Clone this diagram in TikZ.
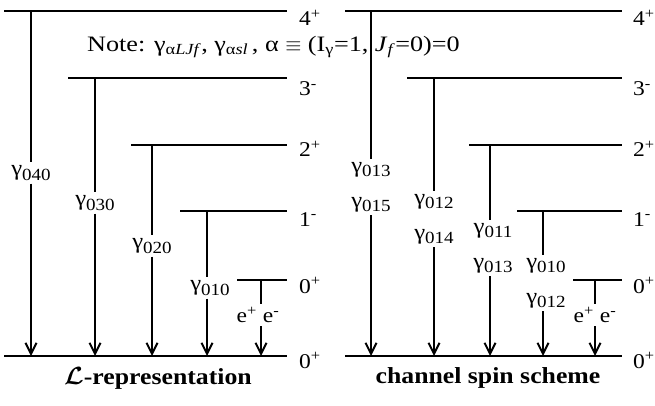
\documentclass[tikz,border=0pt]{standalone}
\usepackage{fontspec}
\setmainfont{Liberation Serif}[FakeStretch=1.12]
\newfontfamily\notefont{Liberation Serif}[FakeStretch=1.19]
\usetikzlibrary{arrows.meta}
\newcommand\lblfont{\fontsize{21}{35}\selectfont}
\newcommand\gsb[1]{{\fontsize{22}{22}\selectfont γ}\raisebox{-0.22em}{\fontsize{17}{17}\selectfont #1}}
\begin{document}
\begin{tikzpicture}[x=1pt,y=-1pt,
  lvl/.style={line width=2pt},
  tr/.style={line width=2pt},
  arr/.style={tr,-{Straight Barb[length=11pt,width=11pt]}},
  jp/.style={anchor=base west,font=\lblfont,inner sep=0pt},
  gl/.style={font=\lblfont,inner sep=3pt,align=center},
  captxt/.style={font=\fontsize{23}{23}\selectfont\bfseries,inner sep=0pt}]
\useasboundingbox (0,0) rectangle (655,406);
% ---------- left panel: levels ----------
\coordinate (a4s) at (4,11);   \coordinate (a4e) at (287,11);
\coordinate (a3s) at (68,78);  \coordinate (a3e) at (287,78);
\coordinate (a2s) at (131,145);\coordinate (a2e) at (287,145);
\coordinate (a1s) at (180,211);\coordinate (a1e) at (287,211);
\coordinate (a0s) at (237,280);\coordinate (a0e) at (287,280);
\coordinate (ags) at (4,356);  \coordinate (age) at (287,356);
\foreach \n in {4,3,2,1,0,g} {\draw[lvl] (a\n s) -- (a\n e);}
\node[jp] (aj4) at (299,26) {4\textsuperscript{+}};
\node[jp] (aj3) at (299,96) {3\textsuperscript{-}};
\node[jp] (aj2) at (299,157) {2\textsuperscript{+}};
\node[jp] (aj1) at (299,226) {1\textsuperscript{-}};
\node[jp] (aj0) at (299,293) {0\textsuperscript{+}};
\node[jp] (ajg) at (299,368) {0\textsuperscript{+}};
% ---------- left panel: transitions ----------
\coordinate (a4t) at (31,11);  \coordinate (a4b) at (31,356);
\coordinate (a3t) at (95,78);  \coordinate (a3b) at (95,356);
\coordinate (a2t) at (152,145);\coordinate (a2b) at (152,356);
\coordinate (a1t) at (207,211);\coordinate (a1b) at (207,356);
\coordinate (a0t) at (261,280);\coordinate (a0b) at (261,356);
\node[gl] (ag4) at (31,173) {\gsb{040}};
\node[gl] (ag3) at (95,203) {\gsb{030}};
\node[gl] (ag2) at (152,246) {\gsb{020}};
\node[gl] (ag1) at (210,288) {\gsb{010}};
\node[gl] (ag0) at (258,315) {e\textsuperscript{+} e\textsuperscript{-}};
\foreach \n in {4,3,2,1,0} {
  \draw[tr] (a\n t) -- (a\n t |- ag\n.north);
  \draw[arr] (a\n t |- ag\n.south) -- (a\n b);}
% ---------- right panel: levels ----------
\coordinate (b4s) at (345,11);  \coordinate (b4e) at (622,11);
\coordinate (b3s) at (407,78);  \coordinate (b3e) at (622,78);
\coordinate (b2s) at (469,145); \coordinate (b2e) at (622,145);
\coordinate (b1s) at (517,211); \coordinate (b1e) at (622,211);
\coordinate (b0s) at (573,280); \coordinate (b0e) at (622,280);
\coordinate (bgs) at (345,356); \coordinate (bge) at (622,356);
\foreach \n in {4,3,2,1,0,g} {\draw[lvl] (b\n s) -- (b\n e);}
\node[jp] (bj4) at (633,26) {4\textsuperscript{+}};
\node[jp] (bj3) at (633,96) {3\textsuperscript{-}};
\node[jp] (bj2) at (633,157) {2\textsuperscript{+}};
\node[jp] (bj1) at (633,226) {1\textsuperscript{-}};
\node[jp] (bj0) at (633,293) {0\textsuperscript{+}};
\node[jp] (bjg) at (633,368) {0\textsuperscript{+}};
% ---------- right panel: transitions ----------
\coordinate (b4t) at (371,11);  \coordinate (b4b) at (371,356);
\coordinate (b3t) at (434,78);  \coordinate (b3b) at (434,356);
\coordinate (b2t) at (490,145); \coordinate (b2b) at (490,356);
\coordinate (b1t) at (543,211); \coordinate (b1b) at (543,356);
\coordinate (b0t) at (595,280); \coordinate (b0b) at (595,356);
\node[gl] (bg4) at (371,187) {\gsb{013}\\\gsb{015}};
\node[gl] (bg3) at (434,219) {\gsb{012}\\\gsb{014}};
\node[gl] (bg2) at (493,248) {\gsb{011}\\\gsb{013}};
\node[gl] (bg1) at (546,283) {\gsb{010}\\\gsb{012}};
\node[gl] (bg0) at (595,315) {e\textsuperscript{+} e\textsuperscript{-}};
\foreach \n in {4,3,2,1,0} {
  \draw[tr] (b\n t) -- (b\n t |- bg\n.north);
  \draw[arr] (b\n t |- bg\n.south) -- (b\n b);}
% ---------- note and captions ----------
\node[anchor=west,font=\notefont\fontsize{22}{22}\selectfont,inner sep=0pt] (note) at (87,47)
  {Note: γ\textsubscript{α\textit{LJf}}, γ\textsubscript{α\textit{sl}}\,, α $\equiv$ (I\textsubscript{γ}=1, \textit{J}\textsubscript{\textit{f}}=0)=0};
\node[captxt] (capa) at (158,378) {{\boldmath$\mathcal{L}$}-representation};
\node[captxt] (capb) at (488,378) {channel spin scheme};
\end{tikzpicture}
\end{document}
